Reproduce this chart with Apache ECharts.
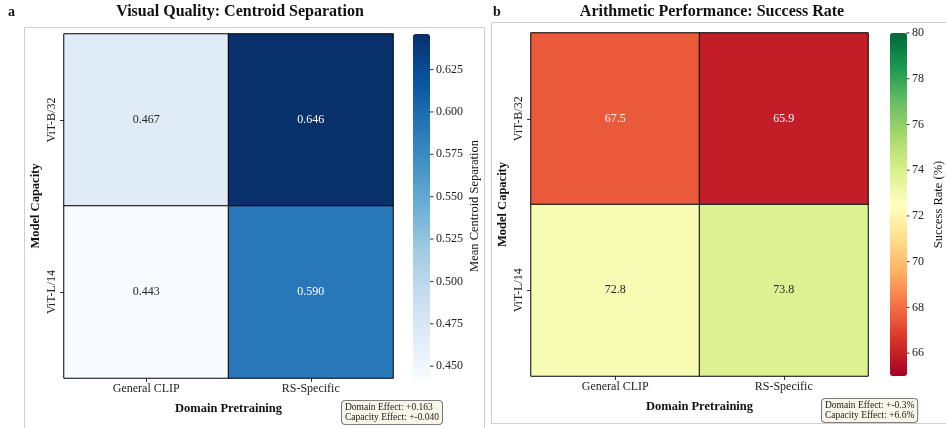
<!DOCTYPE html>
<html>
<head>
<meta charset="utf-8">
<script src="https://cdn.jsdelivr.net/npm/echarts@6/dist/echarts.min.js"></script>
<style>html,body{margin:0;padding:0;background:#fff}#chart{width:946px;height:428px}</style>
</head>
<body>
<div id="chart"></div>
<script>
// ---- data ----
const domainCategories = ['General CLIP', 'RS-Specific'];
const capacityCategories = ['ViT-B/32', 'ViT-L/14'];
const separationViTB32 = [0.467, 0.646];
const separationViTL14 = [0.443, 0.590];
const successViTB32 = [67.5, 65.9];
const successViTL14 = [72.8, 73.8];
const separationRange = [0.443, 0.646];
const successRange = [65, 80];
const separationTicks = [0.450, 0.475, 0.500, 0.525, 0.550, 0.575, 0.600, 0.625];
const successTicks = [66, 68, 70, 72, 74, 76, 78, 80];
const separationNotes = ['Domain Effect: +0.163', 'Capacity Effect: +-0.040'];
const successNotes = ['Domain Effect: +-0.3%', 'Capacity Effect: +6.6%'];

// ---- colormaps ----
const BLUES = ['#f7fbff','#deebf7','#c6dbef','#9ecae1','#6baed6','#4292c6','#2171b5','#08519c','#08306b'];
const RDYLGN = ['#a50026','#d73027','#f46d43','#fdae61','#fee08b','#ffffbf','#d9ef8b','#a6d96a','#66bd63','#1a9850','#006837'];

function hex2rgb(h){return [parseInt(h.substr(1,2),16),parseInt(h.substr(3,2),16),parseInt(h.substr(5,2),16)];}
function cmap(stops, t){
  t = Math.max(0, Math.min(1, t));
  const p = t * (stops.length - 1), i = Math.min(Math.floor(p), stops.length - 2), f = p - i;
  const a = hex2rgb(stops[i]), b = hex2rgb(stops[i+1]);
  return a.map((v,k)=>v + (b[k]-v)*f);
}
function lum(rgb){
  const c = rgb.map(v=>{v/=255;return v<=0.03928? v/12.92 : Math.pow((v+0.055)/1.055,2.4);});
  return 0.2126*c[0]+0.7152*c[1]+0.0722*c[2];
}
function buildData(rows, range, stops, digits){
  const out = [];
  rows.forEach((row, yi)=>row.forEach((v, xi)=>{
    const rgb = cmap(stops, (v-range[0])/(range[1]-range[0]));
    out.push({value:[xi, yi, v], label:{color: lum(rgb) > 0.408 ? '#262626' : '#ffffff', formatter: v.toFixed(digits)}});
  }));
  return out;
}

const FONT = '"Liberation Serif", "Times New Roman", serif';
const chart = echarts.init(document.getElementById('chart'), null, {renderer:'canvas'});

function catX(gi){
  return {type:'category', gridIndex:gi, data:domainCategories, position:'bottom',
    axisLine:{show:false}, axisTick:{show:true, alignWithLabel:true, length:4, lineStyle:{color:'#333'}},
    axisLabel:{fontFamily:FONT, fontSize:12, color:'#222', margin:5},
    splitLine:{show:false}, splitArea:{show:false},
    name:'Domain Pretraining', nameLocation:'middle', nameGap:24,
    nameTextStyle:{fontFamily:FONT, fontSize:12.5, fontWeight:'bold', color:'#111'}};
}
function catY(gi){
  return {type:'category', gridIndex:gi, data:capacityCategories, inverse:true,
    axisLine:{show:false}, axisTick:{show:true, alignWithLabel:true, length:4, lineStyle:{color:'#333'}},
    axisLabel:{fontFamily:FONT, fontSize:12, color:'#222', rotate:90, margin:6},
    splitLine:{show:false}, splitArea:{show:false},
    name:'Model Capacity', nameLocation:'middle', nameGap:22, nameRotate:90,
    nameTextStyle:{fontFamily:FONT, fontSize:12.5, fontWeight:'bold', color:'#111'}};
}
function cbY(gi, range, ticks, digits, title){
  return {type:'value', gridIndex:gi, min:range[0], max:range[1], position:'right',
    axisLine:{show:false}, splitLine:{show:false},
    axisTick:{show:false},
    axisLabel:{fontFamily:FONT, fontSize:12, color:'#222', margin:0, customValues:ticks,
      formatter:v=>'{t|}{g|}' + Number(v).toFixed(digits),
      rich:{t:{width:3.5, height:1, backgroundColor:'#333'}, g:{width:2.5}}},
    name:title, nameLocation:'middle', nameGap: digits ? 38 : 26, nameRotate:90,
    nameTextStyle:{fontFamily:FONT, fontSize:12.5, color:'#111'}};
}
function hiddenX(gi){return {type:'value', gridIndex:gi, show:false, min:0, max:1};}

const option = {
  animation:false,
  backgroundColor:'#fff',
  grid:[
    {left:64, top:34, width:329, height:344},
    {left:531, top:33, width:337, height:343},
    {left:413, top:34, width:17, height:344},
    {left:890, top:33, width:17, height:343}
  ],
  xAxis:[catX(0), catX(1), hiddenX(2), hiddenX(3)],
  yAxis:[catY(0), catY(1), cbY(2, separationRange, separationTicks, 3, 'Mean Centroid Separation'), cbY(3, successRange, successTicks, 0, 'Success Rate (%)')],
  visualMap:[
    {type:'continuous', seriesIndex:0, min:separationRange[0], max:separationRange[1], inRange:{color:BLUES},
     left:413, top:34, itemWidth:17, itemHeight:344, padding:0, text:null, calculable:false, hoverLink:false, showLabel:false, z:1},
    {type:'continuous', seriesIndex:1, min:successRange[0], max:successRange[1], inRange:{color:RDYLGN},
     left:890, top:33, itemWidth:17, itemHeight:343, padding:0, text:null, calculable:false, hoverLink:false, showLabel:false, z:1}
  ],
  series:[
    {type:'heatmap', xAxisIndex:0, yAxisIndex:0, data:buildData([separationViTB32, separationViTL14], separationRange, BLUES, 3),
     label:{show:true, fontFamily:FONT, fontSize:12}, itemStyle:{borderColor:'#000', borderWidth:1}},
    {type:'heatmap', xAxisIndex:1, yAxisIndex:1, data:buildData([successViTB32, successViTL14], successRange, RDYLGN, 1),
     label:{show:true, fontFamily:FONT, fontSize:12}, itemStyle:{borderColor:'#000', borderWidth:1}}
  ],
  graphic:[
    {type:'rect', shape:{x:24.5, y:27.5, width:460, height:420}, style:{fill:'none', stroke:'#cfcfcf', lineWidth:1}, silent:true, z:-1},
    {type:'rect', shape:{x:491.5, y:22.5, width:460, height:401}, style:{fill:'none', stroke:'#cfcfcf', lineWidth:1}, silent:true, z:-1},
    {type:'text', x:240, y:12, style:{text:'Visual Quality: Centroid Separation', font:'bold 16px '+FONT, fill:'#111', textAlign:'center', textVerticalAlign:'middle'}},
    {type:'text', x:712, y:12, style:{text:'Arithmetic Performance: Success Rate', font:'bold 16px '+FONT, fill:'#111', textAlign:'center', textVerticalAlign:'middle'}},
    {type:'text', x:8, y:12, style:{text:'a', font:'bold 14px '+FONT, fill:'#111', textVerticalAlign:'middle'}},
    {type:'text', x:493, y:12, style:{text:'b', font:'bold 14px '+FONT, fill:'#111', textVerticalAlign:'middle'}},
    {type:'text', x:342, y:401, style:{text:separationNotes.join('\n'), font:'9.5px '+FONT, fill:'#222', lineHeight:10.5,
      backgroundColor:'#f8f6e9', borderColor:'#555', borderWidth:0.8, borderRadius:3, padding:[1,3,1,3]}},
    {type:'text', x:822, y:399, style:{text:successNotes.join('\n'), font:'9.5px '+FONT, fill:'#222', lineHeight:10.5,
      backgroundColor:'#f8f6e9', borderColor:'#555', borderWidth:0.8, borderRadius:3, padding:[1,3,1,3]}}
  ]
};
chart.setOption(option);
</script>
</body>
</html>
